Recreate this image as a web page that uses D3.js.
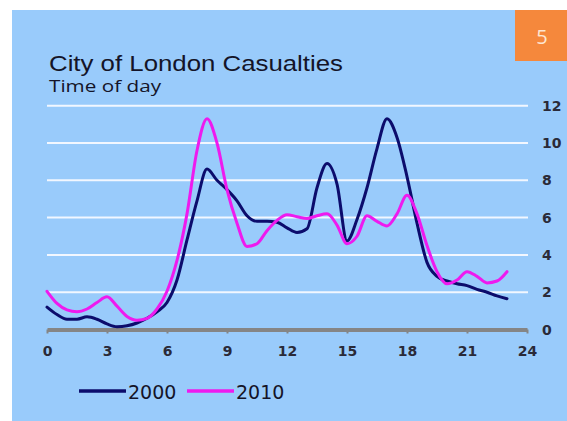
<!DOCTYPE html>
<html>
<head>
<meta charset="utf-8">
<script src="https://cdn.jsdelivr.net/npm/d3@7"></script>
<style>
  html, body { margin: 0; padding: 0; background: #ffffff; }
  svg { display: block; }
</style>
</head>
<body>
<svg id="chart" width="567" height="421"></svg>
<script>
// Casualties by time of day, sampled every half hour from 00:00 to 23:00
const hours = d3.range(0, 23.01, 0.5);
const series2000 = [
  1.2, 0.8, 0.55, 0.55, 0.68, 0.55, 0.3, 0.15, 0.2, 0.35,
  0.6, 0.95, 1.45, 2.65, 4.8, 6.9, 8.6, 8.0, 7.5, 6.9,
  6.1, 5.8, 5.8, 5.75, 5.45, 5.2, 5.4, 7.6, 8.9, 7.8,
  4.75, 5.9, 7.6, 9.7, 11.3, 10.3, 8.2, 5.7, 3.6, 2.85,
  2.6, 2.45, 2.35, 2.15, 2.0, 1.8, 1.65
];
const series2010 = [
  2.05, 1.4, 1.05, 0.95, 1.1, 1.45, 1.75, 1.25, 0.7, 0.5,
  0.6, 1.1, 2.05, 3.7, 6.2, 9.6, 11.3, 10.0, 7.5, 5.7,
  4.45, 4.6, 5.3, 5.85, 6.15, 6.05, 5.95, 6.1, 6.2, 5.6,
  4.6, 5.0, 6.1, 5.8, 5.55, 6.2, 7.2, 6.2, 4.5, 3.1,
  2.45, 2.65, 3.1, 2.85, 2.5, 2.6, 3.1
];
const xTicks = [0, 3, 6, 9, 12, 15, 18, 21, 24];
const yTicks = [0, 2, 4, 6, 8, 10, 12];
const seriesNames = ["2000", "2010"];
const seriesColors = ["#0c0c6c", "#ee1aee"];
const titleText = "City of London Casualties";
const subtitleText = "Time of day";
const badgeText = "5";

const svg = d3.select("#chart");
const labelFont = "'DejaVu Sans', Verdana, sans-serif";

// panel background and numbered badge
svg.append("rect").attr("x", 12).attr("y", 10).attr("width", 555).attr("height", 411)
  .attr("fill", "#99cbfb");
svg.append("rect").attr("x", 515).attr("y", 10).attr("width", 52).attr("height", 51)
  .attr("fill", "#f5883c");
svg.append("text").attr("x", 542).attr("y", 36).attr("text-anchor", "middle")
  .attr("dominant-baseline", "central")
  .attr("font-family", "'Open Sans', 'DejaVu Sans', sans-serif").attr("font-size", 20)
  .attr("fill", "#fde6d2").text(badgeText);

// titles
svg.append("text").attr("x", 49).attr("y", 71)
  .attr("font-family", "'Liberation Sans', Arial, sans-serif").attr("font-size", 22)
  .attr("textLength", 294).attr("lengthAdjust", "spacingAndGlyphs")
  .attr("fill", "#141428").text(titleText);
svg.append("text").attr("x", 49).attr("y", 92)
  .attr("font-family", "'Open Sans', 'DejaVu Sans', sans-serif").attr("font-size", 16)
  .attr("textLength", 112).attr("lengthAdjust", "spacingAndGlyphs")
  .attr("fill", "#141428").text(subtitleText);

const x = d3.scaleLinear().domain([0, 24]).range([47, 527]);
const y = d3.scaleLinear().domain([0, 12]).range([329.5, 105.7]);

// horizontal gridlines
svg.append("g").selectAll("line").data(yTicks.filter(d => d > 0)).join("line")
  .attr("x1", x(0)).attr("x2", x(24) + 1)
  .attr("y1", d => y(d)).attr("y2", d => y(d))
  .attr("stroke", "#f2f7ff").attr("stroke-width", 2);

// right-hand value labels
svg.append("g").selectAll("text").data(yTicks).join("text")
  .attr("x", 542).attr("y", d => y(d)).attr("dominant-baseline", "central")
  .attr("font-family", labelFont).attr("font-size", 14).attr("font-weight", "bold")
  .attr("fill", "#2a2a38").text(d => d);

// x axis
const xAxis = svg.append("g").attr("transform", `translate(0,${y(0)})`)
  .call(d3.axisBottom(x).tickValues(xTicks).tickSize(4).tickPadding(13).tickSizeOuter(0));
xAxis.select(".domain").attr("stroke", "#858585").attr("stroke-width", 4);
xAxis.selectAll(".tick line").attr("stroke", "#858585").attr("stroke-width", 2);
xAxis.selectAll(".tick text")
  .attr("font-family", labelFont).attr("font-size", 14).attr("font-weight", "bold")
  .attr("fill", "#2a2a38");

// series lines
const line = d3.line().x((d, i) => x(hours[i])).y(d => y(d)).curve(d3.curveMonotoneX);
[series2000, series2010].forEach((s, k) => {
  svg.append("path").datum(s).attr("d", line)
    .attr("fill", "none").attr("stroke", seriesColors[k]).attr("stroke-width", 3)
    .attr("stroke-linejoin", "round").attr("stroke-linecap", "round");
});

// legend
const legend = svg.append("g").attr("transform", "translate(79,391)");
seriesNames.forEach((name, k) => {
  const g = legend.append("g").attr("transform", `translate(${k * 108},0)`);
  g.append("line").attr("x1", 0).attr("x2", 47).attr("y1", 0).attr("y2", 0)
    .attr("stroke", seriesColors[k]).attr("stroke-width", 3.5);
  g.append("text").attr("x", 49).attr("y", 1).attr("dominant-baseline", "central")
    .attr("font-family", labelFont).attr("font-size", 19)
    .attr("fill", "#141428").text(name);
});
</script>
</body>
</html>
